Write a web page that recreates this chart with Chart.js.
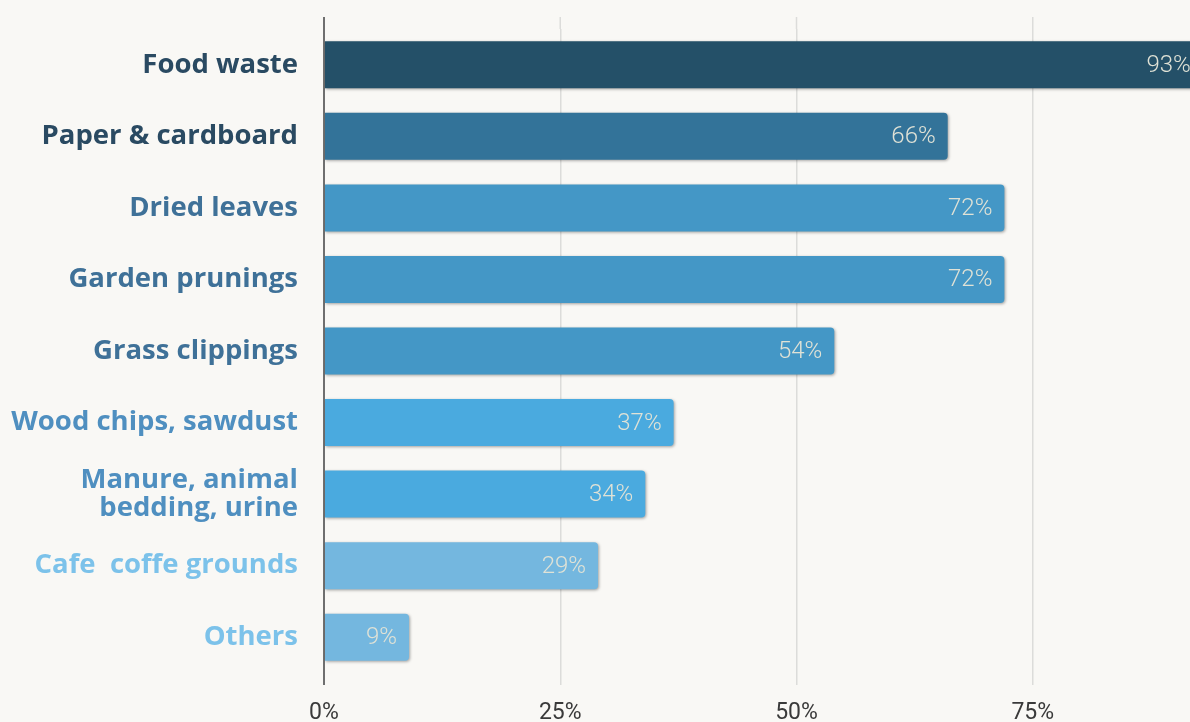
<!DOCTYPE html>
<html>
<head>
<meta charset="utf-8">
<script src="https://cdn.jsdelivr.net/npm/chart.js@4.4.1/dist/chart.umd.min.js"></script>
<style>
  html, body { margin: 0; padding: 0; background: #f9f8f5; }
  #frame { width: 1190px; height: 722px; overflow: hidden; position: relative; }
  #wrap { width: 1300px; height: 740px; position: absolute; left: 0; top: 0; }
</style>
</head>
<body>
<div id="frame">
  <div id="wrap"><canvas id="compost-chart"></canvas></div>
</div>
<script>
// materials and share of people composting them
const materials = [
  'Food waste',
  'Paper & cardboard',
  'Dried leaves',
  'Garden prunings',
  'Grass clippings',
  'Wood chips, sawdust',
  ['Manure, animal', 'bedding, urine'],
  'Cafe  coffe grounds',
  'Others'
]
const shares = [93, 66, 72, 72, 54, 37, 34, 29, 9]
const xTicks = [0, 25, 50, 75, 100]

// colours per row: bar fill and label text
const barColors = ['#245068', '#337399', '#4497c6', '#4497c6', '#4497c6', '#4aaadf', '#4aaadf', '#74b7df', '#74b7df']
const labelColors = ['#2a4a62', '#2a4a62', '#3f7198', '#3f7198', '#3f7198', '#4f8fc0', '#4f8fc0', '#7cc2ea', '#7cc2ea']

const gridColor = ctx => ctx.tick && ctx.tick.value === 0 ? '#6f6f6f' : '#dcdcda'
const gridWidth = ctx => ctx.tick && ctx.tick.value === 0 ? 2 : 1.5

// soft shadow under the bars
const barShadow = {
  id: 'barShadow',
  beforeDatasetsDraw(chart) {
    const ctx = chart.ctx
    ctx.save()
    ctx.shadowColor = 'rgba(0,0,0,0.35)'
    ctx.shadowBlur = 3
    ctx.shadowOffsetX = 1
    ctx.shadowOffsetY = 1
  },
  afterDatasetsDraw(chart) {
    chart.ctx.restore()
  }
}

// grid lines run a little above the plot area
const gridCap = {
  id: 'gridCap',
  beforeDatasetsDraw(chart) {
    const ctx = chart.ctx
    const x = chart.scales.x
    const top = chart.chartArea.top
    ctx.save()
    x.ticks.forEach(t => {
      const px = x.getPixelForValue(t.value)
      ctx.strokeStyle = t.value === 0 ? '#6f6f6f' : '#dcdcda'
      ctx.lineWidth = t.value === 0 ? 2 : 1.5
      ctx.beginPath()
      ctx.moveTo(px, top - 12)
      ctx.lineTo(px, top)
      ctx.stroke()
    })
    ctx.restore()
  }
}

// percentage written at the end of each bar
const valueLabels = {
  id: 'valueLabels',
  afterDatasetsDraw(chart) {
    const ctx = chart.ctx
    const meta = chart.getDatasetMeta(0)
    ctx.save()
    ctx.font = '300 24px Roboto'
    ctx.fillStyle = '#e0e2d6'
    ctx.textAlign = 'right'
    ctx.textBaseline = 'middle'
    meta.data.forEach((bar, i) => {
      ctx.fillText(shares[i] + '%', bar.x - 12, bar.y + 1)
    })
    ctx.restore()
  }
}

new Chart('compost-chart', {
  type: 'bar',
  data: {
    labels: materials,
    datasets: [{
      data: shares,
      backgroundColor: barColors,
      borderRadius: 4,
      borderSkipped: 'start',
      barPercentage: 0.657,
      categoryPercentage: 1
    }]
  },
  options: {
    indexAxis: 'y',
    responsive: true,
    maintainAspectRatio: false,
    animation: false,
    layout: { padding: { top: 29, right: 31, bottom: 0, left: 0 } },
    plugins: {
      legend: { display: false },
      tooltip: { enabled: false }
    },
    scales: {
      x: {
        min: 0,
        max: 100,
        afterBuildTicks: scale => { scale.ticks = xTicks.map(v => ({ value: v })) },
        grid: { color: gridColor, lineWidth: gridWidth, tickColor: gridColor, tickLength: 12 },
        border: { display: false },
        ticks: {
          color: '#3a3a3a',
          font: { family: 'Roboto', size: 23 },
          padding: 14,
          maxRotation: 0,
          callback: v => v + '%'
        },
        afterFit: scale => {
          scale.height = 67
          scale.paddingLeft = 0
          scale.paddingRight = 0
        }
      },
      y: {
        grid: { display: false, drawTicks: false },
        border: { display: false },
        ticks: {
          color: ctx => labelColors[ctx.index],
          font: { family: 'Open Sans', size: 27.5, weight: 700, lineHeight: 1.05 },
          padding: 26
        },
        afterFit: scale => {
          scale.width = 324
          scale.paddingTop = 0
          scale.paddingBottom = 0
        }
      }
    }
  },
  plugins: [gridCap, barShadow, valueLabels]
})
</script>
</body>
</html>
